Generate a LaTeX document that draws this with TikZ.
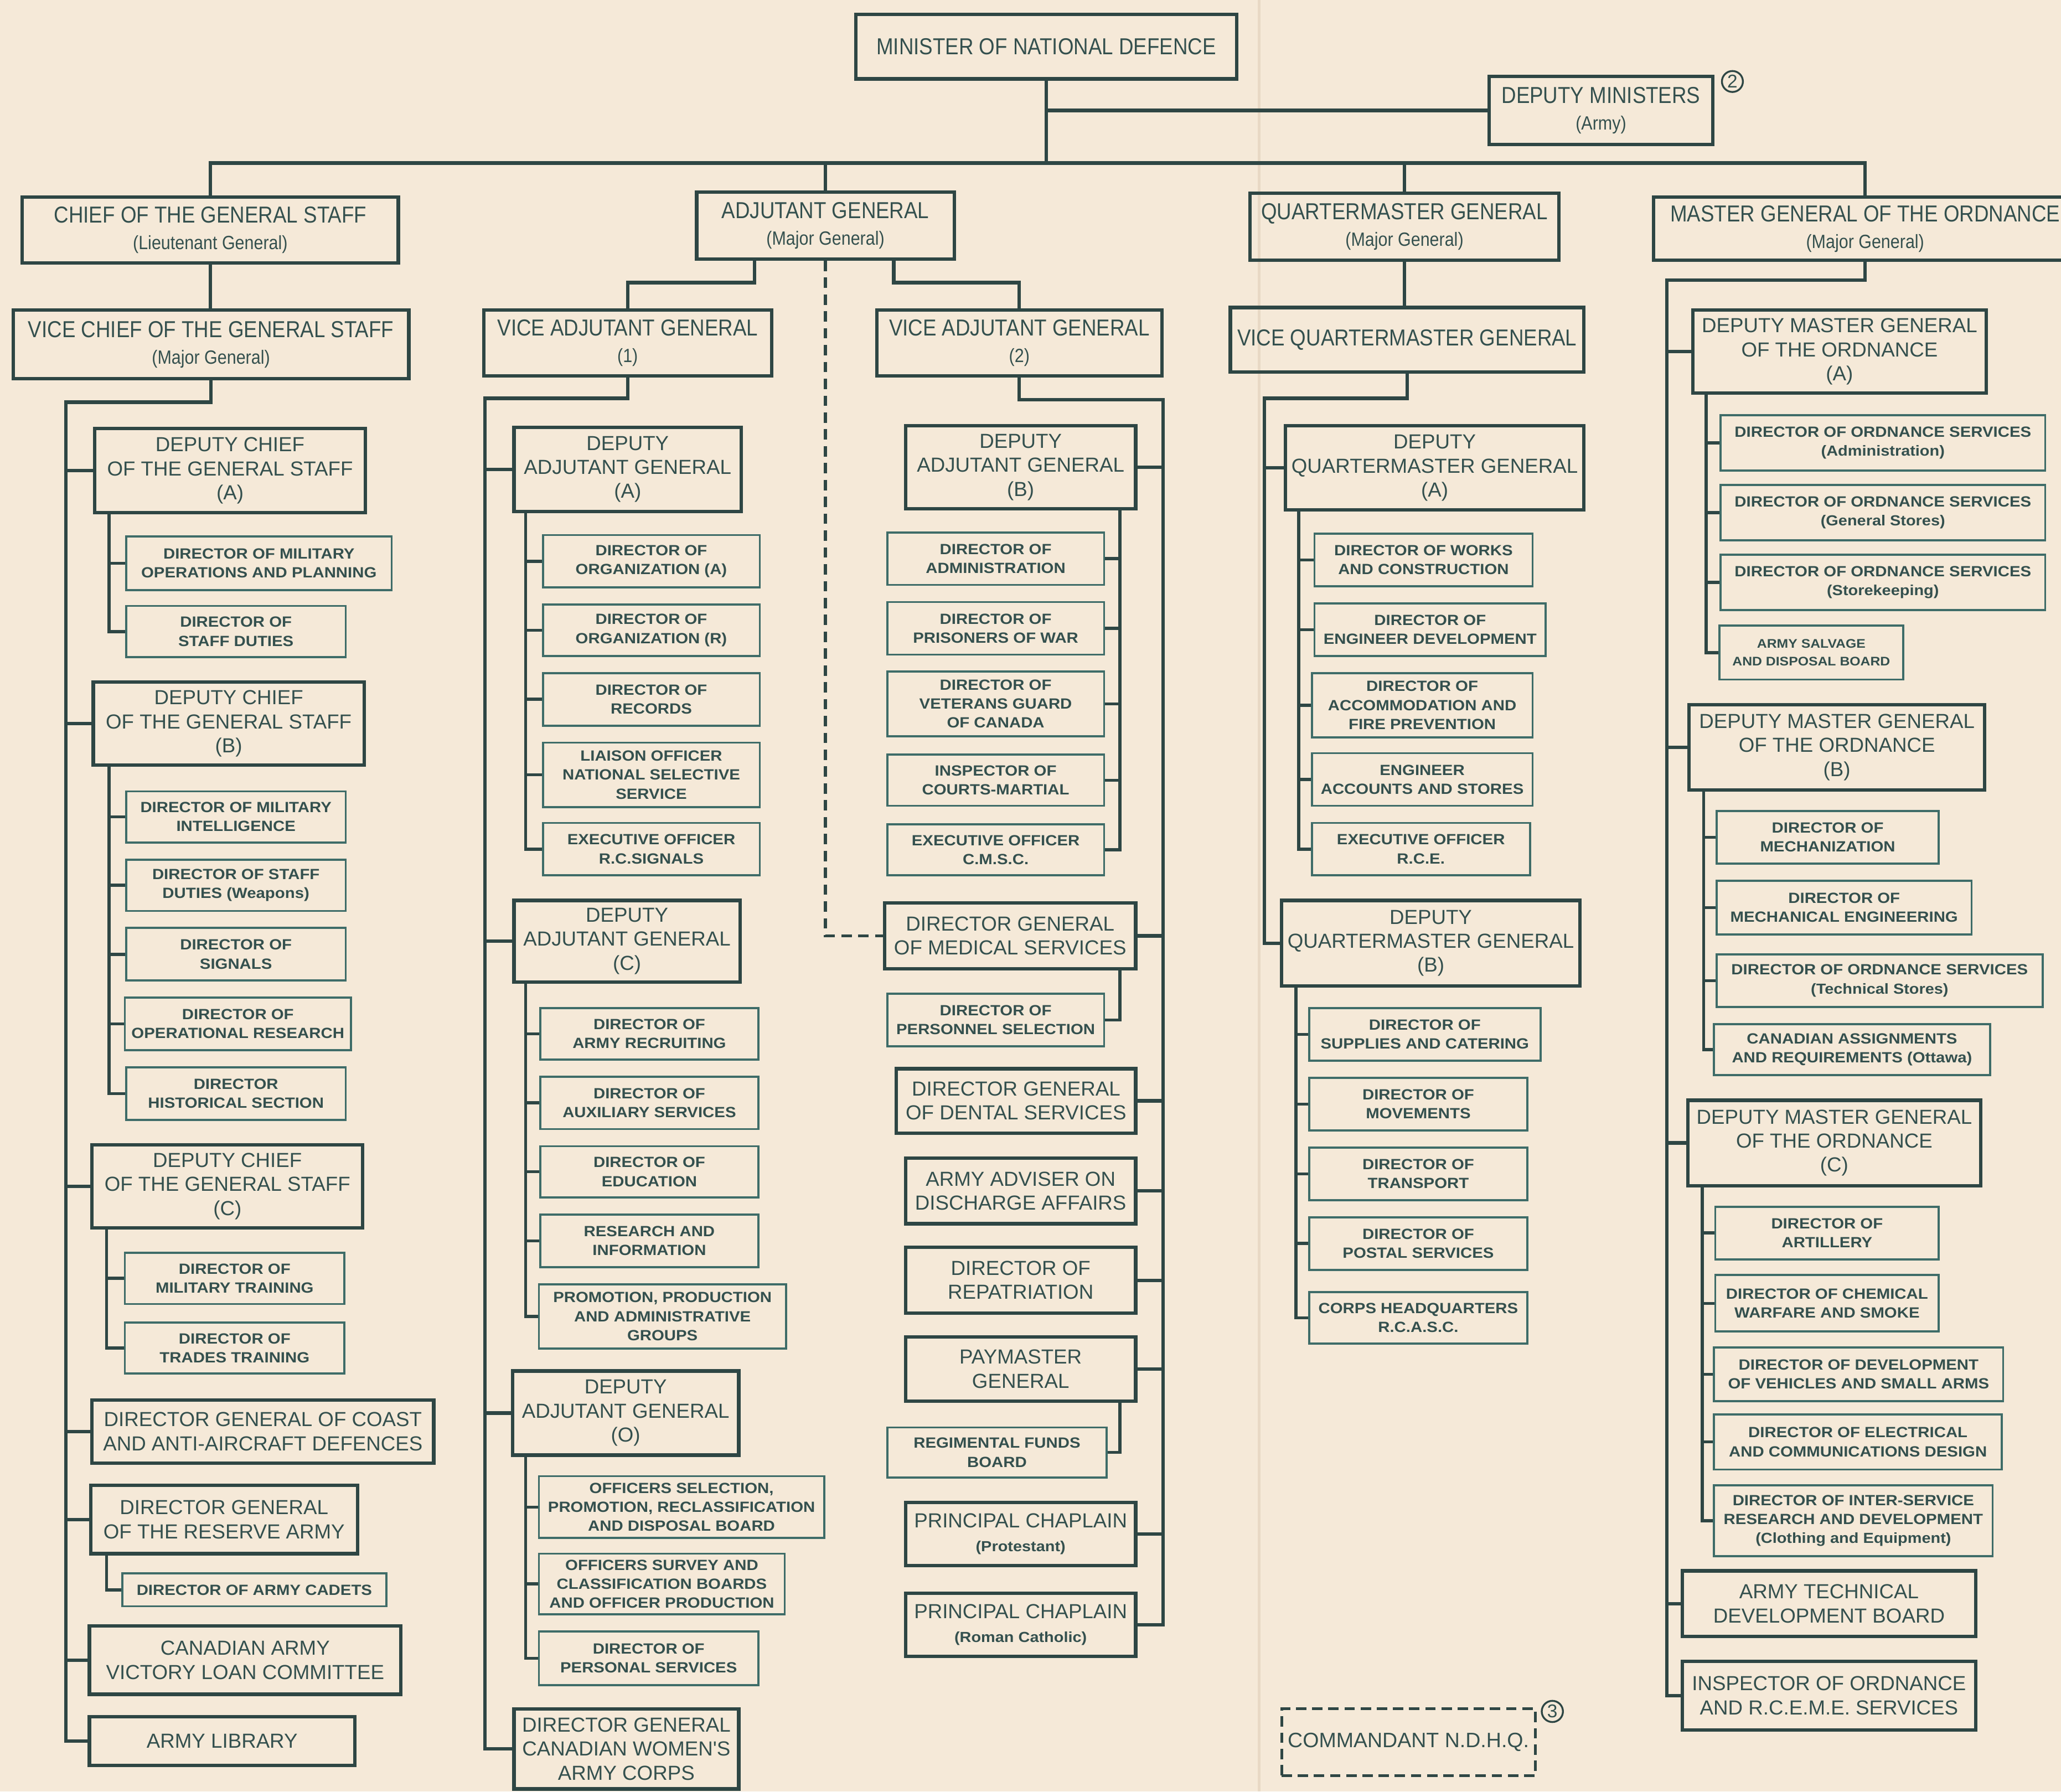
\documentclass[tikz,border=0pt]{standalone}
\usepackage{fontspec}
\newfontfamily\condfont[FakeStretch=0.88]{Liberation Sans}
\newfontfamily\regfont{Liberation Sans}
\newfontfamily\widefont[FakeStretch=1.1]{Liberation Sans}
\definecolor{paper}{RGB}{245,233,216}
\definecolor{ink}{RGB}{46,70,68}
\definecolor{thinink}{RGB}{62,108,104}
\definecolor{inktext}{RGB}{52,80,78}
\definecolor{foldline}{RGB}{232,217,197}
\newcommand\grade[1]{{\fontsize{8.3}{9}\selectfont #1}}
\newcommand\detail[1]{{\widefont\bfseries\fontsize{6.3}{7}\selectfont #1}}
\begin{document}
\begin{tikzpicture}[x=0.02cm, y=-0.02cm,
  bw/.style={minimum width=#1*0.02cm},
  bh/.style={minimum height=#1*0.02cm},
  topbox/.style={draw=ink, line width=1.5pt, inner sep=0pt, align=center, text=inktext, font=\condfont\fontsize{10}{11.5}\selectfont},
  midbox/.style={draw=ink, line width=1.5pt, inner sep=0pt, align=center, text=inktext, font=\regfont\fontsize{8.8}{10.4}\selectfont},
  smallbox/.style={draw=thinink, line width=0.9pt, inner sep=0pt, align=center, text=inktext, font=\widefont\bfseries\fontsize{6.4}{8.2}\selectfont},
  link/.style={draw=ink, line width=1.5pt},
  sublink/.style={draw=ink, line width=1.3pt},
  notemark/.style={circle, draw=ink, line width=0.8pt, inner sep=0.7pt, text=inktext, font=\regfont\fontsize{8}{8}\selectfont}]
\useasboundingbox (0,0) rectangle (1568,1363);
\fill[paper] (0,0) rectangle (1568,1363);
\draw[foldline, line width=1.2pt] (958,0) -- (958,1363);

% top of the chart
\node (mnd) [topbox, bw=290, bh=49] at (796,35.5) {MINISTER OF NATIONAL DEFENCE};
\node (dm) [topbox, bw=170, bh=52] at (1218,84) {DEPUTY MINISTERS\\\grade{(Army)}};
\node (note2) [notemark] at (1318,62) {2};
\node (cgs) [topbox, bw=286, bh=50] at (160,175) {CHIEF OF THE GENERAL STAFF\\\grade{(Lieutenant General)}};
\node (ag) [topbox, bw=196, bh=51] at (628,171.5) {ADJUTANT GENERAL\\\grade{(Major General)}};
\node (qmg) [topbox, bw=235, bh=51] at (1068.5,172.5) {QUARTERMASTER GENERAL\\\grade{(Major General)}};
\node (mgo) [topbox, bw=322, bh=48] at (1419,174) {MASTER GENERAL OF THE ORDNANCE\\\grade{(Major General)}};
\node (vcgs) [topbox, bw=301, bh=52] at (160.5,262) {VICE CHIEF OF THE GENERAL STAFF\\\grade{(Major General)}};
\node (vag1) [topbox, bw=219, bh=50] at (477.5,261) {VICE ADJUTANT GENERAL\\\grade{(1)}};
\node (vag2) [topbox, bw=217, bh=50] at (775.5,261) {VICE ADJUTANT GENERAL\\\grade{(2)}};
\node (vqmg) [topbox, bw=269, bh=49] at (1070.5,258.5) {VICE QUARTERMASTER GENERAL};

% chief of the general staff
\node (dcgsa) [midbox, bw=206, bh=64] at (175,358) {DEPUTY CHIEF\\OF THE GENERAL STAFF\\(A)};
\node (mops) [smallbox, bw=202, bh=41] at (197,428.5) {DIRECTOR OF MILITARY\\OPERATIONS AND PLANNING};
\node (staffd) [smallbox, bw=167, bh=39] at (179.5,480.5) {DIRECTOR OF\\STAFF DUTIES};
\node (dcgsb) [midbox, bw=206, bh=63] at (174,550.5) {DEPUTY CHIEF\\OF THE GENERAL STAFF\\(B)};
\node (intel) [smallbox, bw=167, bh=39] at (179.5,621.5) {DIRECTOR OF MILITARY\\INTELLIGENCE};
\node (weapons) [smallbox, bw=167, bh=39] at (179.5,673.5) {DIRECTOR OF STAFF\\DUTIES (Weapons)};
\node (signals) [smallbox, bw=167, bh=40] at (179.5,726) {DIRECTOR OF\\SIGNALS};
\node (opres) [smallbox, bw=172, bh=40] at (181,779) {DIRECTOR OF\\OPERATIONAL RESEARCH};
\node (hist) [smallbox, bw=167, bh=40] at (179.5,832) {DIRECTOR\\HISTORICAL SECTION};
\node (dcgsc) [midbox, bw=206, bh=63] at (173,902.5) {DEPUTY CHIEF\\OF THE GENERAL STAFF\\(C)};
\node (miltrain) [smallbox, bw=167, bh=39] at (178.5,972.5) {DIRECTOR OF\\MILITARY TRAINING};
\node (trades) [smallbox, bw=167, bh=39] at (178.5,1025.5) {DIRECTOR OF\\TRADES TRAINING};
\node (coast) [midbox, bw=260, bh=48] at (200,1089) {DIRECTOR GENERAL OF COAST\\AND ANTI-AIRCRAFT DEFENCES};
\node (reserve) [midbox, bw=203, bh=52] at (170.5,1156) {DIRECTOR GENERAL\\OF THE RESERVE ARMY};
\node (cadets) [smallbox, bw=201, bh=25] at (193.5,1209.5) {DIRECTOR OF ARMY CADETS};
\node (loan) [midbox, bw=237, bh=52] at (186.5,1263) {CANADIAN ARMY\\VICTORY LOAN COMMITTEE};
\node (library) [midbox, bw=202, bh=37] at (169,1324.5) {ARMY LIBRARY};

% adjutant general (1)
\node (daga) [midbox, bw=173, bh=64] at (477.5,357) {DEPUTY\\ADJUTANT GENERAL\\(A)};
\node (orga) [smallbox, bw=165, bh=40] at (495.5,427) {DIRECTOR OF\\ORGANIZATION (A)};
\node (orgr) [smallbox, bw=165, bh=39] at (495.5,479.5) {DIRECTOR OF\\ORGANIZATION (R)};
\node (records) [smallbox, bw=165, bh=40] at (495.5,532) {DIRECTOR OF\\RECORDS};
\node (liaison) [smallbox, bw=165, bh=49] at (495.5,589.5) {LIAISON OFFICER\\NATIONAL SELECTIVE\\SERVICE};
\node (rcsig) [smallbox, bw=165, bh=40] at (495.5,646) {EXECUTIVE OFFICER\\R.C.SIGNALS};
\node (dagc) [midbox, bw=172, bh=62] at (477,716) {DEPUTY\\ADJUTANT GENERAL\\(C)};
\node (recruit) [smallbox, bw=166, bh=39] at (494,786.5) {DIRECTOR OF\\ARMY RECRUITING};
\node (auxil) [smallbox, bw=166, bh=40] at (494,839) {DIRECTOR OF\\AUXILIARY SERVICES};
\node (educ) [smallbox, bw=166, bh=39] at (494,891.5) {DIRECTOR OF\\EDUCATION};
\node (research) [smallbox, bw=166, bh=40] at (494,944) {RESEARCH AND\\INFORMATION};
\node (promo) [smallbox, bw=188, bh=49] at (504,1001.5) {PROMOTION, PRODUCTION\\AND ADMINISTRATIVE\\GROUPS};
\node (dago) [midbox, bw=172, bh=64] at (476,1075) {DEPUTY\\ADJUTANT GENERAL\\(O)};
\node (offsel) [smallbox, bw=217, bh=47] at (518.5,1146.5) {OFFICERS SELECTION,\\PROMOTION, RECLASSIFICATION\\AND DISPOSAL BOARD};
\node (offsurv) [smallbox, bw=187, bh=46] at (503.5,1205) {OFFICERS SURVEY AND\\CLASSIFICATION BOARDS\\AND OFFICER PRODUCTION};
\node (persserv) [smallbox, bw=167, bh=41] at (493.5,1261.5) {DIRECTOR OF\\PERSONAL SERVICES};
\node (cwac) [midbox, bw=171, bh=61] at (476.5,1330.5) {DIRECTOR GENERAL\\CANADIAN WOMEN'S\\ARMY CORPS};

% adjutant general (2)
\node (dagb) [midbox, bw=175, bh=63] at (776.5,355.5) {DEPUTY\\ADJUTANT GENERAL\\(B)};
\node (admin) [smallbox, bw=165, bh=40] at (757.5,425) {DIRECTOR OF\\ADMINISTRATION};
\node (pow) [smallbox, bw=165, bh=40] at (757.5,478) {DIRECTOR OF\\PRISONERS OF WAR};
\node (veterans) [smallbox, bw=165, bh=49] at (757.5,535.5) {DIRECTOR OF\\VETERANS GUARD\\OF CANADA};
\node (courts) [smallbox, bw=165, bh=39] at (757.5,593.5) {INSPECTOR OF\\COURTS-MARTIAL};
\node (cmsc) [smallbox, bw=165, bh=39] at (757.5,646.5) {EXECUTIVE OFFICER\\C.M.S.C.};
\node (dgms) [midbox, bw=191, bh=50] at (768.5,712) {DIRECTOR GENERAL\\OF MEDICAL SERVICES};
\node (perssel) [smallbox, bw=165, bh=40] at (757.5,776) {DIRECTOR OF\\PERSONNEL SELECTION};
\node (dental) [midbox, bw=182, bh=49] at (773,837.5) {DIRECTOR GENERAL\\OF DENTAL SERVICES};
\node (discharge) [midbox, bw=175, bh=50] at (776.5,906) {ARMY ADVISER ON\\DISCHARGE AFFAIRS};
\node (repat) [midbox, bw=175, bh=50] at (776.5,974) {DIRECTOR OF\\REPATRIATION};
\node (paymaster) [midbox, bw=175, bh=49] at (776.5,1041.5) {PAYMASTER\\GENERAL};
\node (funds) [smallbox, bw=167, bh=38] at (758.5,1105) {REGIMENTAL FUNDS\\BOARD};
\node (protchap) [midbox, bw=175, bh=48] at (776.5,1167) {PRINCIPAL CHAPLAIN\\\detail{(Protestant)}};
\node (rcchap) [midbox, bw=175, bh=48] at (776.5,1236) {PRINCIPAL CHAPLAIN\\\detail{(Roman Catholic)}};

% quartermaster general
\node (dqmga) [midbox, bw=227, bh=64] at (1091.5,356) {DEPUTY\\QUARTERMASTER GENERAL\\(A)};
\node (works) [smallbox, bw=166, bh=40] at (1083,426) {DIRECTOR OF WORKS\\AND CONSTRUCTION};
\node (engdev) [smallbox, bw=176, bh=40] at (1088,479) {DIRECTOR OF\\ENGINEER DEVELOPMENT};
\node (accom) [smallbox, bw=168, bh=49] at (1082,536.5) {DIRECTOR OF\\ACCOMMODATION AND\\FIRE PREVENTION};
\node (engacc) [smallbox, bw=168, bh=40] at (1082,593) {ENGINEER\\ACCOUNTS AND STORES};
\node (rce) [smallbox, bw=166, bh=40] at (1081,646) {EXECUTIVE OFFICER\\R.C.E.};
\node (dqmgb) [midbox, bw=227, bh=65] at (1088.5,717.5) {DEPUTY\\QUARTERMASTER GENERAL\\(B)};
\node (supplies) [smallbox, bw=176, bh=40] at (1084,787) {DIRECTOR OF\\SUPPLIES AND CATERING};
\node (moves) [smallbox, bw=166, bh=40] at (1079,840) {DIRECTOR OF\\MOVEMENTS};
\node (transport) [smallbox, bw=166, bh=40] at (1079,893) {DIRECTOR OF\\TRANSPORT};
\node (postal) [smallbox, bw=166, bh=40] at (1079,946) {DIRECTOR OF\\POSTAL SERVICES};
\node (corpshq) [smallbox, bw=166, bh=39] at (1079,1002.5) {CORPS HEADQUARTERS\\R.C.A.S.C.};
\node (commandant) [midbox, dash pattern=on 4.5pt off 2.5pt, line width=1.2pt, bw=193, bh=51, font=\regfont\fontsize{9}{10}\selectfont] at (1071.5,1325.5) {COMMANDANT N.D.H.Q.};
\node (note3) [notemark] at (1181,1302) {3};

% master general of the ordnance
\node (dmgoa) [midbox, bw=223, bh=63] at (1399.5,267.5) {DEPUTY MASTER GENERAL\\OF THE ORDNANCE\\(A)};
\node (dosadmin) [smallbox, bw=247, bh=42] at (1432.5,337) {DIRECTOR OF ORDNANCE SERVICES\\\detail{(Administration)}};
\node (dosgen) [smallbox, bw=247, bh=42] at (1432.5,390) {DIRECTOR OF ORDNANCE SERVICES\\\detail{(General Stores)}};
\node (dosstore) [smallbox, bw=247, bh=42] at (1432.5,443) {DIRECTOR OF ORDNANCE SERVICES\\\detail{(Storekeeping)}};
\node (salvage) [smallbox, bw=140, bh=41, font=\widefont\bfseries\fontsize{5.4}{7.6}\selectfont] at (1378,496.5) {ARMY SALVAGE\\AND DISPOSAL BOARD};
\node (dmgob) [midbox, bw=225, bh=65] at (1397.5,568.5) {DEPUTY MASTER GENERAL\\OF THE ORDNANCE\\(B)};
\node (mechan) [smallbox, bw=169, bh=40] at (1390.5,637) {DIRECTOR OF\\MECHANIZATION};
\node (mecheng) [smallbox, bw=194, bh=41] at (1403,690.5) {DIRECTOR OF\\MECHANICAL ENGINEERING};
\node (dostech) [smallbox, bw=248, bh=40] at (1430,746) {DIRECTOR OF ORDNANCE SERVICES\\\detail{(Technical Stores)}};
\node (assign) [smallbox, bw=210, bh=39] at (1409,798.5) {CANADIAN ASSIGNMENTS\\AND REQUIREMENTS (Ottawa)};
\node (dmgoc) [midbox, bw=223, bh=65] at (1395.5,869.5) {DEPUTY MASTER GENERAL\\OF THE ORDNANCE\\(C)};
\node (artillery) [smallbox, bw=170, bh=40] at (1390,938) {DIRECTOR OF\\ARTILLERY};
\node (chemical) [smallbox, bw=170, bh=43] at (1390,991.5) {DIRECTOR OF CHEMICAL\\WARFARE AND SMOKE};
\node (vehicles) [smallbox, bw=220, bh=41] at (1414,1045.5) {DIRECTOR OF DEVELOPMENT\\OF VEHICLES AND SMALL ARMS};
\node (electrical) [smallbox, bw=219, bh=42] at (1413.5,1097) {DIRECTOR OF ELECTRICAL\\AND COMMUNICATIONS DESIGN};
\node (interserv) [smallbox, bw=212, bh=54] at (1410,1157) {DIRECTOR OF INTER-SERVICE\\RESEARCH AND DEVELOPMENT\\\detail{(Clothing and Equipment)}};
\node (techboard) [midbox, bw=223, bh=50] at (1391.5,1220) {ARMY TECHNICAL\\DEVELOPMENT BOARD};
\node (inspector) [midbox, bw=223, bh=52] at (1391.5,1290) {INSPECTOR OF ORDNANCE\\AND R.C.E.M.E. SERVICES};

% connectors
\coordinate (topbar) at (796,124);
\draw[link] (cgs.north) |- (topbar) -| (mgo.north);
\draw[link] (mnd.south) -- (topbar);
\draw[link] (ag.north) -- (ag.north |- topbar);
\draw[link] (qmg.north) -- (qmg.north |- topbar);
\draw[link] (mnd.south |- dm.west) -- (dm.west);

\draw[link] (cgs.south) -- (cgs.south |- vcgs.north);
\coordinate (cgsline) at (50,306);
\draw[link] (vcgs.south) |- (cgsline) |- (library.west);
\foreach \n in {dcgsa,dcgsb,dcgsc,coast,reserve,loan}
  \draw[link] (cgsline |- \n.west) -- (\n.west);
\coordinate (dcgsaline) at (83,390);
\draw[sublink] (dcgsaline) |- (staffd.west);
\draw[sublink] (dcgsaline |- mops.west) -- (mops.west);
\coordinate (dcgsbline) at (83,582);
\draw[sublink] (dcgsbline) |- (hist.west);
\foreach \n in {intel,weapons,signals,opres}
  \draw[sublink] (dcgsbline |- \n.west) -- (\n.west);
\coordinate (dcgscline) at (81,934);
\draw[sublink] (dcgscline) |- (trades.west);
\draw[sublink] (dcgscline |- miltrain.west) -- (miltrain.west);
\coordinate (reserveline) at (81,1182);
\draw[sublink] (reserveline) |- (cadets.west);

\coordinate (agleft) at (574,215);
\coordinate (agright) at (680,215);
\draw[link] (agleft |- ag.south) -- (agleft) -| (vag1.north);
\draw[link] (agright |- ag.south) -- (agright) -| (vag2.north);
\draw[link, line width=1.3pt, dash pattern=on 4.5pt off 2.8pt] (ag.south) |- (dgms.west);

\coordinate (vag1line) at (369,303);
\draw[link] (vag1.south) |- (vag1line) |- (cwac.west);
\foreach \n in {daga,dagc,dago}
  \draw[link] (vag1line |- \n.west) -- (\n.west);
\coordinate (dagaline) at (400,389);
\draw[sublink] (dagaline) |- (rcsig.west);
\foreach \n in {orga,orgr,records,liaison}
  \draw[sublink] (dagaline |- \n.west) -- (\n.west);
\coordinate (dagcline) at (400,747);
\draw[sublink] (dagcline) |- (promo.west);
\foreach \n in {recruit,auxil,educ,research}
  \draw[sublink] (dagcline |- \n.west) -- (\n.west);
\coordinate (dagoline) at (400,1107);
\draw[sublink] (dagoline) |- (persserv.west);
\foreach \n in {offsel,offsurv}
  \draw[sublink] (dagoline |- \n.west) -- (\n.west);

\coordinate (vag2line) at (885,304);
\draw[link] (vag2.south) |- (vag2line) |- (rcchap.east);
\foreach \n in {dagb,dgms,dental,discharge,repat,paymaster,protchap}
  \draw[link] (vag2line |- \n.east) -- (\n.east);
\coordinate (dagbline) at (852,387);
\draw[sublink] (dagbline) |- (cmsc.east);
\foreach \n in {admin,pow,veterans,courts}
  \draw[sublink] (dagbline |- \n.east) -- (\n.east);
\coordinate (dgmsline) at (852,737);
\draw[sublink] (dgmsline) |- (perssel.east);
\coordinate (payline) at (852,1066);
\draw[sublink] (payline) |- (funds.east);

\draw[link] (qmg.south) -- (qmg.south |- vqmg.north);
\coordinate (vqmgline) at (962,303);
\draw[link] (vqmg.south) |- (vqmgline) |- (dqmgb.west);
\draw[link] (vqmgline |- dqmga.west) -- (dqmga.west);
\coordinate (dqmgaline) at (988,388);
\draw[sublink] (dqmgaline) |- (rce.west);
\foreach \n in {works,engdev,accom,engacc}
  \draw[sublink] (dqmgaline |- \n.west) -- (\n.west);
\coordinate (dqmgbline) at (986,750);
\draw[sublink] (dqmgbline) |- (corpshq.west);
\foreach \n in {supplies,moves,transport,postal}
  \draw[sublink] (dqmgbline |- \n.west) -- (\n.west);

\coordinate (mgoline) at (1268,213);
\draw[link] (mgo.south) |- (mgoline) |- (inspector.west);
\foreach \n in {dmgoa,dmgob,dmgoc,techboard}
  \draw[link] (mgoline |- \n.west) -- (\n.west);
\coordinate (dmgoaline) at (1298,299);
\draw[sublink] (dmgoaline) |- (salvage.west);
\foreach \n in {dosadmin,dosgen,dosstore}
  \draw[sublink] (dmgoaline |- \n.west) -- (\n.west);
\coordinate (dmgobline) at (1296,601);
\draw[sublink] (dmgobline) |- (assign.west);
\foreach \n in {mechan,mecheng,dostech}
  \draw[sublink] (dmgobline |- \n.west) -- (\n.west);
\coordinate (dmgocline) at (1295,902);
\draw[sublink] (dmgocline) |- (interserv.west);
\foreach \n in {artillery,chemical,vehicles,electrical}
  \draw[sublink] (dmgocline |- \n.west) -- (\n.west);
\end{tikzpicture}
\end{document}
